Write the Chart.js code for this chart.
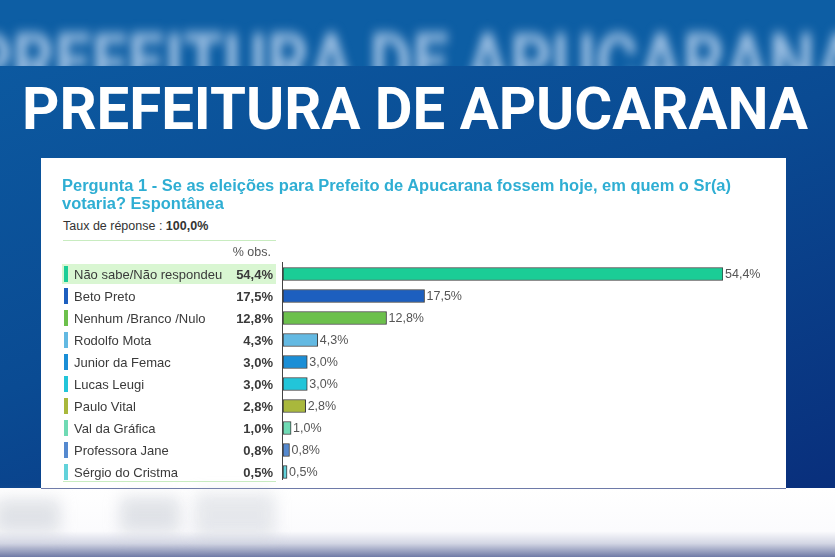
<!DOCTYPE html>
<html>
<head>
<meta charset="utf-8">
<script src="https://cdn.jsdelivr.net/npm/chart.js@4.4.1/dist/chart.umd.min.js"></script>
<style>
    html, body {
        margin: 0;
        padding: 0;
    }

    body {
        width: 835px;
        height: 557px;
        position: relative;
        overflow: hidden;
        font-family: "Liberation Sans", Arial, sans-serif;
        background: #ffffff;
    }

    #blurBand {
        position: absolute;
        left: 0;
        top: 0;
        width: 835px;
        height: 66px;
        overflow: hidden;
        background: #0d5ea4;
    }

    #blurText {
        position: absolute;
        left: -30px;
        top: 16px;
        white-space: nowrap;
        font-family: Roboto, "Liberation Sans", sans-serif;
        font-weight: bold;
        font-size: 80px;
        color: #9cbfe2;
        filter: blur(6px);
        transform-origin: left top;
    }

    #blueBand {
        position: absolute;
        left: 0;
        top: 66px;
        width: 835px;
        height: 422px;
        background: linear-gradient(160deg, #0c59a0 0%, #0a4b93 45%, #092f7c 100%);
    }

    #mainTitle {
        position: absolute;
        left: 22px;
        top: 74px;
        white-space: nowrap;
        font-family: Roboto, "Liberation Sans", sans-serif;
        font-weight: bold;
        font-size: 59px;
        line-height: 70px;
        color: #ffffff;
        transform-origin: left top;
    }

    #panel {
        position: absolute;
        left: 41px;
        top: 158px;
        width: 745px;
        height: 330px;
        background: #ffffff;
        border-bottom: 1px solid #6e7aa8;
    }

    #question {
        position: absolute;
        left: 62px;
        top: 177px;
        white-space: nowrap;
        font-weight: bold;
        font-size: 16px;
        line-height: 18px;
        color: #2faed3;
        transform-origin: left top;
    }

    #rate {
        position: absolute;
        left: 63px;
        top: 219px;
        font-size: 12.5px;
        color: #333333;
    }

    #chartBox {
        position: absolute;
        left: 41px;
        top: 232px;
        width: 745px;
        height: 256px;
    }

    #bottomBand {
        position: absolute;
        left: 0;
        top: 489px;
        width: 835px;
        height: 68px;
        background: linear-gradient(180deg, #ffffff 0%, #fbfbfd 62%, #d3d6e4 80%, #6f7aa6 100%);
    }

    .smudge {
        position: absolute;
        background: #c4c9d2;
        filter: blur(8px);
        opacity: 0.5;
    }
</style>
</head>
<body>
<div id="blurBand"><div id="blurText">PREFEITURA DE APUCARANA</div></div>
<div id="blueBand"></div>
<div id="mainTitle">PREFEITURA DE APUCARANA</div>
<div id="panel"></div>
<div id="question">Pergunta 1 - Se as eleições para Prefeito de Apucarana fossem hoje, em quem o Sr(a)<br>votaria? Espontânea</div>
<div id="rate">Taux de réponse : <b>100,0%</b></div>
<div id="chartBox"><canvas id="pollChart"></canvas></div>
<div id="bottomBand">
    <div class="smudge" style="left:-5px;top:10px;width:65px;height:34px;"></div>
    <div class="smudge" style="left:120px;top:8px;width:60px;height:36px;"></div>
    <div class="smudge" style="left:195px;top:4px;width:80px;height:44px;opacity:0.4;"></div>
</div>

<script>
const candidates = [
    "Não sabe/Não respondeu",
    "Beto Preto",
    "Nenhum /Branco /Nulo",
    "Rodolfo Mota",
    "Junior da Femac",
    "Lucas Leugi",
    "Paulo Vital",
    "Val da Gráfica",
    "Professora Jane",
    "Sérgio do Cristma"
];

const percentObs = [54.4, 17.5, 12.8, 4.3, 3.0, 3.0, 2.8, 1.0, 0.8, 0.5];

const barColors = [
    "#1bcd96",
    "#1d5fbf",
    "#6cc04c",
    "#63b9e2",
    "#1a8ed6",
    "#22c5d9",
    "#a9b83c",
    "#6fdab4",
    "#5589cf",
    "#62d2da"
];

// stretch the big titles to the widths seen in the picture
function fitWidth(id, targetWidth) {
    const el = document.getElementById(id);
    const w = el.getBoundingClientRect().width;
    el.style.transform = `scaleX(${targetWidth / w})`;
}
fitWidth("mainTitle", 786);
fitWidth("blurText", 890);
fitWidth("question", 669);

function pct(v) {
    return v.toFixed(1).replace(".", ",") + "%";
}

const tablePlugin = {
    id: "leftTable",
    afterDatasetsDraw(chart) {
        const ctx = chart.ctx;
        const yScale = chart.scales.y;
        const xScale = chart.scales.x;
        const area = chart.chartArea;

        ctx.save();

        // green rules and header
        ctx.fillStyle = "#c8ecc0";
        ctx.fillRect(22, 8, 213, 1);
        ctx.fillRect(22, 249, 213, 1);

        ctx.font = "12.5px 'Liberation Sans', Arial, sans-serif";
        ctx.fillStyle = "#555555";
        ctx.textAlign = "right";
        ctx.textBaseline = "middle";
        ctx.fillText("% obs.", 230, 21);

        candidates.forEach((name, i) => {
            const y = yScale.getPixelForValue(i);

            if (i === 0) {
                ctx.fillStyle = "#d9f6d2";
                ctx.fillRect(21, y - 10, 214, 20);
            }

            ctx.fillStyle = barColors[i];
            ctx.fillRect(23, y - 8, 4, 16);

            ctx.font = "13px 'Liberation Sans', Arial, sans-serif";
            ctx.fillStyle = "#3a3a3a";
            ctx.textAlign = "left";
            ctx.fillText(name, 33, y + 1);

            ctx.font = "bold 13px 'Liberation Sans', Arial, sans-serif";
            ctx.textAlign = "right";
            ctx.fillText(pct(percentObs[i]), 232, y + 1);

            const xEnd = xScale.getPixelForValue(percentObs[i]);
            ctx.font = "12.5px 'Liberation Sans', Arial, sans-serif";
            ctx.fillStyle = "#555555";
            ctx.textAlign = "left";
            ctx.fillText(pct(percentObs[i]), xEnd + 2, y + 1);
        });

        // axis line
        ctx.fillStyle = "#444444";
        ctx.fillRect(area.left - 1, area.top - 1, 1, area.bottom - area.top - 2);

        ctx.restore();
    }
};

new Chart(document.getElementById("pollChart"), {
    type: "bar",
    data: {
        labels: candidates,
        datasets: [
            {
                data: percentObs,
                backgroundColor: barColors,
                borderColor: "#3a3a3a",
                borderWidth: 1,
                borderSkipped: false,
                barThickness: 13
            }
        ]
    },
    options: {
        indexAxis: "y",
        responsive: true,
        maintainAspectRatio: false,
        animation: false,
        layout: {
            padding: { left: 242, right: 63, top: 31, bottom: 5 }
        },
        plugins: {
            legend: { display: false },
            tooltip: { enabled: false }
        },
        scales: {
            x: {
                display: false,
                min: 0,
                max: 54.4
            },
            y: {
                display: false,
                offset: true
            }
        }
    },
    plugins: [tablePlugin]
});
</script>
</body>
</html>
